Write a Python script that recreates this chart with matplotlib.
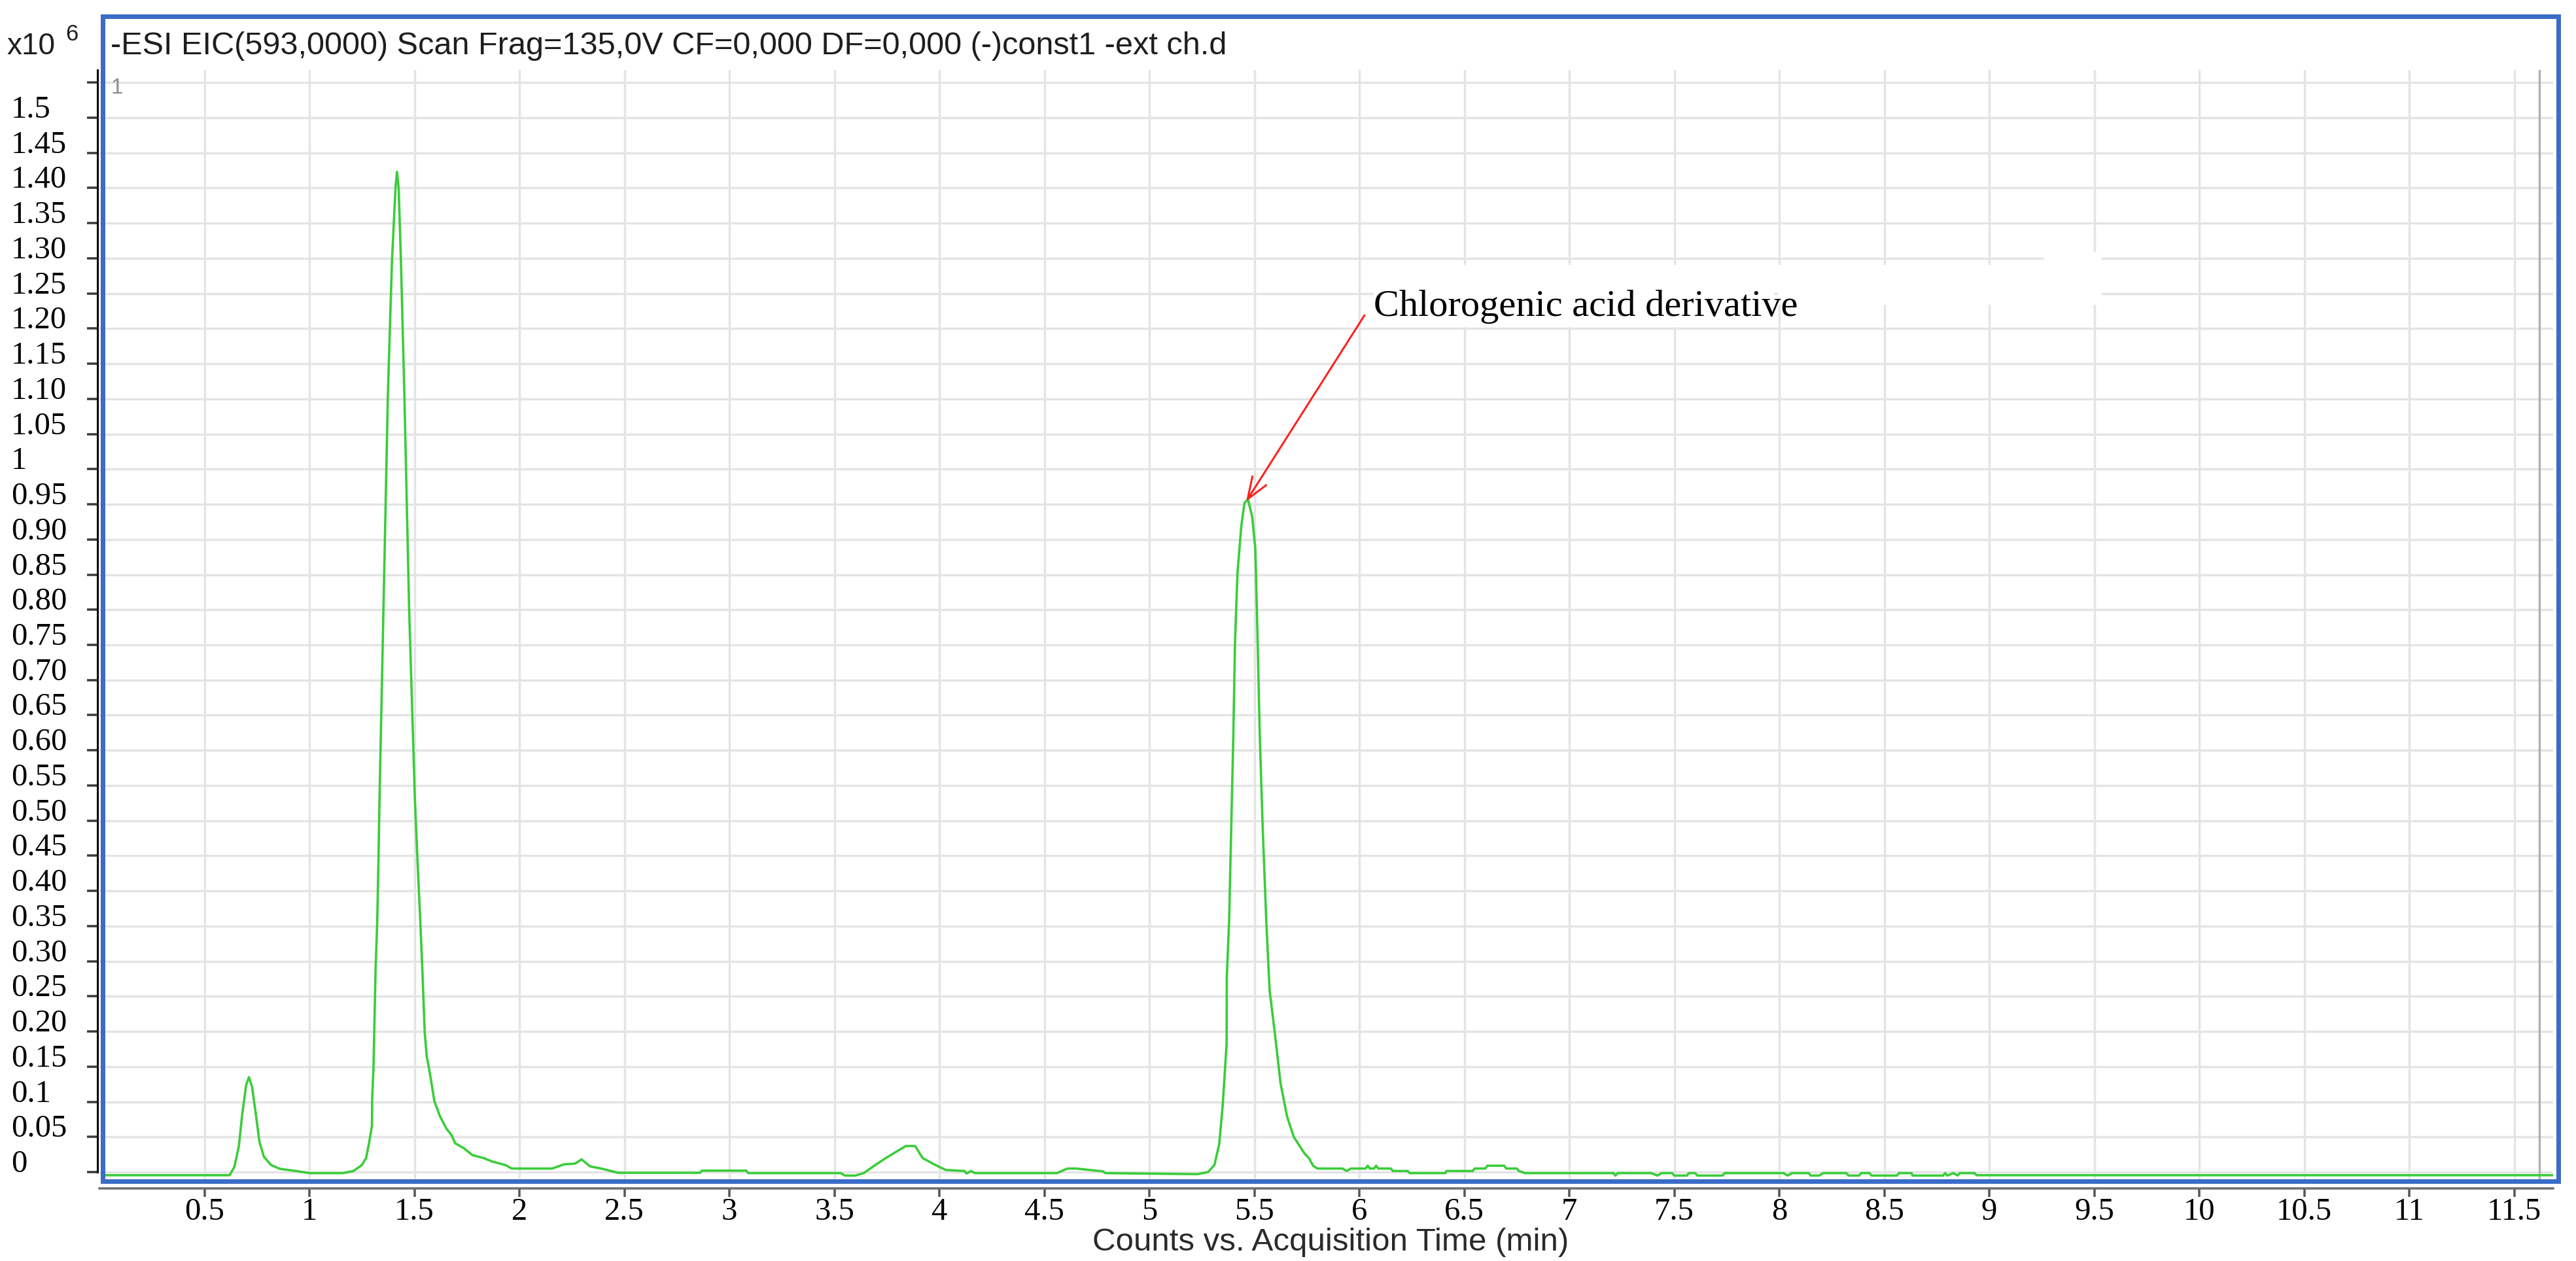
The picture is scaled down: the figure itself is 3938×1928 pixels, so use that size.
import numpy as np
import matplotlib
matplotlib.use("Agg")
import matplotlib.pyplot as plt
from matplotlib.patches import Rectangle

# ---------------- data ----------------
time_min = [0.02, 0.62, 0.643, 0.664, 0.68, 0.699, 0.712, 0.727, 0.745, 0.762, 0.783,
            0.817, 0.86, 0.936, 1.0, 1.16, 1.21, 1.25, 1.27, 1.284, 1.298, 1.299,
            1.305, 1.31, 1.315, 1.323, 1.329, 1.334, 1.374, 1.393, 1.41, 1.417,
            1.425, 1.436, 1.452, 1.475, 1.502, 1.512, 1.528, 1.538, 1.549, 1.559,
            1.57, 1.58, 1.595, 1.621, 1.652, 1.678, 1.694, 1.735, 1.777, 1.829,
            1.87, 1.933, 1.964, 2.156, 2.213, 2.265, 2.296, 2.337, 2.389, 2.47,
            2.86, 2.87, 3.08, 3.09, 3.53, 3.55, 3.60, 3.64, 3.69, 3.74, 3.79,
            3.84, 3.885, 3.92, 3.975, 4.03, 4.12, 4.13, 4.15, 4.17, 4.56, 4.61,
            4.65, 4.78, 4.79, 5.23, 5.28, 5.31, 5.333, 5.349, 5.363, 5.368,
            5.369, 5.38, 5.39, 5.40, 5.408, 5.42, 5.438, 5.453, 5.47, 5.49,
            5.505, 5.516, 5.526, 5.54, 5.557, 5.573, 5.60, 5.625, 5.656, 5.688,
            5.74, 5.76, 5.78, 5.80, 5.92, 5.94, 5.96, 6.03, 6.04, 6.05, 6.07,
            6.08, 6.09, 6.15, 6.16, 6.23, 6.24, 6.41, 6.415, 6.54, 6.55, 6.60,
            6.61, 6.69, 6.70, 6.75, 6.76, 6.79, 7.21, 7.22, 7.23, 7.39, 7.42,
            7.44, 7.49, 7.50, 7.56, 7.57, 7.60, 7.61, 7.73, 7.74, 8.02, 8.04,
            8.06, 8.14, 8.15, 8.19, 8.21, 8.32, 8.33, 8.38, 8.39, 8.43, 8.44,
            8.56, 8.57, 8.63, 8.635, 8.78, 8.79, 8.80, 8.83, 8.85, 8.86, 8.93,
            8.94, 11.685]
counts_x1e6 = [-0.0045, -0.0045, 0.0075, 0.037, 0.082, 0.124, 0.135, 0.121, 0.082, 0.043, 0.022,
               0.010, 0.0045, 0.0015, -0.0015, -0.0015, 0.0015, 0.010, 0.020, 0.041, 0.066, 0.106,
               0.147, 0.217, 0.287, 0.357, 0.445, 0.533, 1.109, 1.295, 1.40, 1.423,
               1.40, 1.295, 1.109, 0.80, 0.533, 0.462, 0.357, 0.287, 0.199, 0.164,
               0.147, 0.129, 0.101, 0.080, 0.062, 0.052, 0.041, 0.034, 0.024, 0.020,
               0.015, 0.010, 0.005, 0.005, 0.011, 0.012, 0.018, 0.008, 0.005, -0.001,
               -0.001, 0.002, 0.002, -0.0015, -0.0015, -0.005, -0.005, -0.0015, 0.009, 0.019, 0.028,
               0.037, 0.037, 0.020, 0.011, 0.003, 0.0015, -0.002, 0.0015, -0.0015, -0.0015, 0.005,
               0.005, 0.001, -0.0015, -0.003, 0.0, 0.010, 0.040, 0.093, 0.159, 0.182,
               0.278, 0.357, 0.489, 0.621, 0.753, 0.853, 0.919, 0.952, 0.957, 0.932,
               0.886, 0.753, 0.621, 0.489, 0.357, 0.258, 0.192, 0.126, 0.079, 0.050,
               0.026, 0.020, 0.009, 0.005, 0.005, 0.0015, 0.005, 0.005, 0.009, 0.005, 0.005,
               0.009, 0.005, 0.005, 0.0015, 0.0015, -0.0015, -0.0015, 0.0015, 0.0015, 0.005, 0.005,
               0.009, 0.009, 0.005, 0.005, 0.0015, -0.0015, -0.0015, -0.005, -0.0015, -0.0015, -0.005,
               -0.0015, -0.0015, -0.005, -0.005, -0.0015, -0.0015, -0.005, -0.005, -0.0015, -0.0015, -0.005,
               -0.0015, -0.0015, -0.005, -0.005, -0.0015, -0.0015, -0.005, -0.005, -0.0015, -0.0015, -0.005,
               -0.005, -0.0015, -0.0015, -0.005, -0.005, -0.0015, -0.005, -0.0015, -0.005, -0.0015, -0.0015,
               -0.0045, -0.0045]

x_ticks = [0.5, 1, 1.5, 2, 2.5, 3, 3.5, 4, 4.5, 5, 5.5, 6, 6.5, 7, 7.5, 8, 8.5,
           9, 9.5, 10, 10.5, 11, 11.5]
x_tick_labels = ["0.5", "1", "1.5", "2", "2.5", "3", "3.5", "4", "4.5", "5", "5.5",
                 "6", "6.5", "7", "7.5", "8", "8.5", "9", "9.5", "10", "10.5", "11", "11.5"]
y_ticks = [0, 0.05, 0.1, 0.15, 0.2, 0.25, 0.3, 0.35, 0.4, 0.45, 0.5, 0.55, 0.6, 0.65,
           0.7, 0.75, 0.8, 0.85, 0.9, 0.95, 1.0, 1.05, 1.1, 1.15, 1.2, 1.25, 1.3, 1.35,
           1.4, 1.45, 1.5, 1.55]
y_tick_labels = ["0", "0.05", "0.1", "0.15", "0.20", "0.25", "0.30", "0.35", "0.40",
                 "0.45", "0.50", "0.55", "0.60", "0.65", "0.70", "0.75", "0.80", "0.85",
                 "0.90", "0.95", "1", "1.05", "1.10", "1.15", "1.20", "1.25", "1.30",
                 "1.35", "1.40", "1.45", "1.5", ""]

title_text = "-ESI EIC(593,0000) Scan Frag=135,0V CF=0,000 DF=0,000 (-)const1 -ext ch.d"
x_label = "Counts vs. Acquisition Time (min)"
annotation_text = "Chlorogenic acid derivative"
annotated_peak = (5.461, 0.954)
end_marker_time = 11.62

# ---------------- layout helpers ----------------
W, H, DPI = 3938, 1928, 100
PT = 72.0 / DPI            # points per pixel
fig = plt.figure(figsize=(W / DPI, H / DPI), dpi=DPI)
fig.patch.set_facecolor("white")


def fx(px):
    return px / W


def fy(py):
    return 1 - py / H


AX_L, AX_R, AX_T, AX_B = 152, 3903, 107, 1805
X0_PX, X_SCALE = 152, 321.0        # px of t=0, px per minute
Y0_PX, Y_SCALE = 1792, 1074.7      # px of y=0, px per 1e6 counts

ax = fig.add_axes([fx(AX_L), fy(AX_B), (AX_R - AX_L) / W, (AX_B - AX_T) / H])
xmax = (AX_R - X0_PX) / X_SCALE
ymin = -(AX_B - Y0_PX) / Y_SCALE
ymax = (Y0_PX - AX_T) / Y_SCALE
ax.set_xlim(0, xmax)
ax.set_ylim(ymin, ymax)


def dx(px):
    return (px - X0_PX) / X_SCALE


def dy(py):
    return (Y0_PX - py) / Y_SCALE


serif = ["Liberation Serif", "DejaVu Serif"]
sans = ["Liberation Sans", "DejaVu Sans"]

# grid
ax.set_axisbelow(True)
for t in x_ticks:
    ax.axvline(t, color="#e4e4e4", lw=3.4 * PT, zorder=0)
for v in y_ticks:
    ax.axhline(v, color="#e4e4e4", lw=3.4 * PT, zorder=0)
ax.axvline(end_marker_time, color="#b0b0b0", lw=3.4 * PT, zorder=0.5)

# white masks behind the annotation text
for (x1, y1, x2, y2) in [(2100, 405, 2712, 500), (2718, 405, 3213, 466), (3125, 385, 3213, 410)]:
    ax.add_patch(Rectangle((dx(x1), dy(y2)), dx(x2) - dx(x1), dy(y1) - dy(y2),
                           facecolor="white", edgecolor="none", zorder=0.8))

# chromatogram trace
ax.plot(time_min, counts_x1e6, color="#3acd3a", lw=3.6 * PT, zorder=2,
        solid_joinstyle="round")

# spines
for s in ["top", "right"]:
    ax.spines[s].set_visible(False)
ax.spines["left"].set_position(("outward", 3 * PT))
ax.spines["left"].set_color("black")
ax.spines["left"].set_linewidth(3 * PT)
ax.spines["left"].set_bounds(0, ymax)
ax.spines["bottom"].set_position(("outward", 12 * PT))
ax.spines["bottom"].set_color("#6e6e6e")
ax.spines["bottom"].set_linewidth(3.5 * PT)

# ticks
ax.set_yticks(y_ticks, y_tick_labels, ha="left", va="baseline",
              fontfamily=serif, fontsize=35, color="black")
ax.tick_params(axis="y", direction="out", length=16 * PT, width=3.5 * PT,
               color="#3a3a3a", pad=(149 - 16 - 17) * PT)
ax.set_xticks(x_ticks, x_tick_labels, fontfamily=serif, fontsize=35, color="black")
ax.tick_params(axis="x", direction="out", length=13 * PT, width=3.5 * PT,
               color="#555555", pad=1 * PT)

# annotation
ax.annotate("", xy=annotated_peak, xytext=(dx(2086), dy(482)),
            arrowprops=dict(arrowstyle="->,head_length=0.8,head_width=0.3",
                            color="#ff2020", lw=3 * PT, shrinkA=0, shrinkB=0,
                            mutation_scale=30), zorder=5)
ax.text(dx(2100), dy(483), annotation_text, fontfamily=serif, fontsize=42,
        color="black", va="baseline", ha="left", zorder=5)

# texts outside the axes
fig.text(fx(169), fy(83), title_text, fontfamily=sans, fontsize=35,
         color="#1e1e1e", va="baseline", ha="left")
fig.text(fx(10), fy(83), "x10", fontfamily=sans, fontsize=33,
         color="#1e1e1e", va="baseline", ha="left")
fig.text(fx(100), fy(62), "6", fontfamily=sans, fontsize=25,
         color="#1e1e1e", va="baseline", ha="left")
fig.text(fx(169), fy(143), "1", fontfamily=sans, fontsize=24,
         color="#8c8c8c", va="baseline", ha="left")
fig.text(fx(2034), fy(1912), x_label, fontfamily=sans, fontsize=35.5,
         color="#2a2a2a", va="baseline", ha="center")

# blue frame
fig.add_artist(Rectangle((fx(156.5), fy(1806)), fx(3911) - fx(156.5), fy(25) - fy(1806),
                         transform=fig.transFigure, fill=False,
                         edgecolor="#3a6cc8", lw=7 * PT, zorder=10))

fig.savefig("out.png", dpi=DPI, facecolor="white")
